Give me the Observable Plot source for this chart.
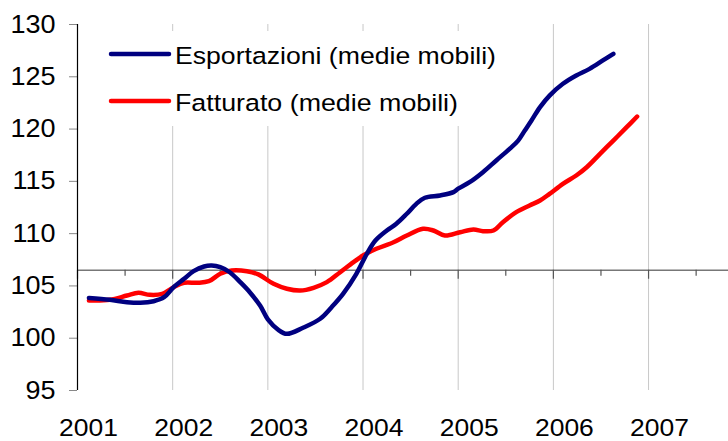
<!DOCTYPE html>
<html>
<head>
<meta charset="utf-8">
<script src="https://cdn.jsdelivr.net/npm/d3@7"></script>
<script src="https://cdn.jsdelivr.net/npm/@observablehq/plot@0.6"></script>
<style>
  html, body { margin: 0; padding: 0; background: #fff; }
  #wrap { position: relative; width: 728px; height: 441px; font-family: "Liberation Sans", Arial, sans-serif; }
  #legend { position: absolute; left: 0; top: 0; pointer-events: none; }
</style>
</head>
<body>
<div id="wrap"></div>
<script>
// ---- Data ----
const seriesNames = ["Esportazioni (medie mobili)", "Fatturato (medie mobili)"];
const seriesColors = ["#000080", "#ff0000"];

const expYears = [2001.12, 2001.34, 2001.52, 2001.66, 2001.80, 2001.91, 2002.01, 2002.12, 2002.22, 2002.33,
  2002.41, 2002.50, 2002.60, 2002.71, 2002.81, 2002.92, 2003.00, 2003.11, 2003.20, 2003.37,
  2003.55, 2003.67, 2003.79, 2003.93, 2004.04, 2004.13, 2004.25, 2004.35, 2004.46, 2004.56,
  2004.65, 2004.81, 2004.95, 2005.00, 2005.12, 2005.26, 2005.40, 2005.54, 2005.63, 2005.70,
  2005.77, 2005.86, 2005.96, 2006.10, 2006.24, 2006.38, 2006.52, 2006.63];
const expValues = [103.85, 103.67, 103.45, 103.39, 103.54, 103.92, 104.88, 105.68, 106.41, 106.86,
  106.95, 106.79, 106.31, 105.36, 104.40, 103.10, 101.80, 100.80, 100.42, 101.00,
  101.86, 102.97, 104.24, 106.16, 108.07, 109.34, 110.30, 110.94, 111.90, 112.85,
  113.43, 113.65, 113.97, 114.30, 114.92, 115.88, 117.00, 118.11, 118.90, 119.86,
  120.82, 122.10, 123.20, 124.33, 125.12, 125.76, 126.56, 127.20];

const fatYears = [2001.12, 2001.34, 2001.52, 2001.64, 2001.76, 2001.89, 2002.01, 2002.12, 2002.26, 2002.38,
  2002.50, 2002.62, 2002.78, 2002.90, 2003.06, 2003.20, 2003.34, 2003.48, 2003.62, 2003.76,
  2003.90, 2004.00, 2004.14, 2004.32, 2004.46, 2004.63, 2004.74, 2004.86, 2005.02, 2005.16,
  2005.26, 2005.37, 2005.47, 2005.61, 2005.75, 2005.86, 2005.96, 2006.10, 2006.24, 2006.35,
  2006.49, 2006.63, 2006.77, 2006.88];
const fatValues = [103.61, 103.67, 104.08, 104.34, 104.15, 104.24, 104.88, 105.30, 105.30, 105.45,
  106.16, 106.48, 106.41, 106.10, 105.20, 104.73, 104.56, 104.82, 105.36, 106.31,
  107.27, 107.91, 108.55, 109.18, 109.82, 110.46, 110.30, 109.82, 110.14, 110.40,
  110.24, 110.30, 111.10, 112.05, 112.69, 113.17, 113.80, 114.76, 115.56, 116.35,
  117.63, 118.90, 120.18, 121.20];

const yTicks = [95, 100, 105, 110, 115, 120, 125, 130];
const xTicks = [2001, 2002, 2003, 2004, 2005, 2006, 2007];
const xGrid = [2002, 2003, 2004, 2005, 2006, 2007];
const xMinor = [2001.5, 2002.5, 2003.5, 2004.5, 2005.5, 2006.5, 2007.5];
const crossValue = 106.5;

// ---- Build tables ----
const exp = expYears.map((x, i) => ({x, y: expValues[i]}));
const fat = fatYears.map((x, i) => ({x, y: fatValues[i]}));

const chart = Plot.plot({
  width: 728,
  height: 441,
  marginLeft: 77,
  marginRight: 0,
  marginTop: 24,
  marginBottom: 51,
  style: { fontFamily: "Liberation Sans, Arial, sans-serif", color: "#000", background: "#fff" },
  x: { domain: [2001, 2007.84] },
  y: { domain: [95, 130] },
  marks: [
    Plot.ruleX(xGrid, { x: d => d, stroke: "#c8c8c8", strokeWidth: 1 }),
    Plot.ruleY([crossValue], { y: d => d, stroke: "#777", strokeWidth: 1.5 }),
    Plot.ruleX(xTicks, { x: d => d, y1: crossValue, y2: crossValue, insetBottom: -9, stroke: "#555", strokeWidth: 1.2 }),
    Plot.ruleX(xMinor, { x: d => d, y1: crossValue, y2: crossValue, insetBottom: -6, stroke: "#555", strokeWidth: 1.2 }),
    Plot.axisY({ ticks: yTicks, tickSize: 8, tickPadding: 14, fontSize: 25, stroke: "#888", label: null }),
    Plot.axisX({ ticks: xTicks, tickSize: 0, tickPadding: 28, dx: 11, fontSize: 24.5, tickFormat: d => String(d), label: null }),
    Plot.ruleX([2001], { x: d => d, stroke: "#000", strokeWidth: 1.2 }),
    Plot.line(fat, { x: "x", y: "y", stroke: seriesColors[1], strokeWidth: 4.5, curve: "catmull-rom" }),
    Plot.line(exp, { x: "x", y: "y", stroke: seriesColors[0], strokeWidth: 4.5, curve: "catmull-rom" })
  ]
});

const wrap = document.getElementById("wrap");
wrap.appendChild(chart);

// widen axis labels slightly (reference glyphs are horizontally stretched)
chart.querySelectorAll("g[aria-label='y-axis tick label'] text, g[aria-label='x-axis tick label'] text").forEach(t => {
  const w = t.getComputedTextLength();
  t.setAttribute("textLength", (w * 1.08).toFixed(1));
  t.setAttribute("lengthAdjust", "spacingAndGlyphs");
});

// ---- Legend overlay ----
const ns = "http://www.w3.org/2000/svg";
const legendWidths = [321, 283];
const leg = document.createElementNS(ns, "svg");
leg.setAttribute("id", "legend");
leg.setAttribute("width", 728);
leg.setAttribute("height", 441);
const bg = document.createElementNS(ns, "rect");
bg.setAttribute("x", 100); bg.setAttribute("y", 31);
bg.setAttribute("width", 410); bg.setAttribute("height", 95);
bg.setAttribute("fill", "#fff");
leg.appendChild(bg);
seriesNames.forEach((name, i) => {
  const cy = 54 + i * 47;
  const ln = document.createElementNS(ns, "line");
  ln.setAttribute("x1", 111); ln.setAttribute("x2", 169);
  ln.setAttribute("y1", cy); ln.setAttribute("y2", cy);
  ln.setAttribute("stroke", seriesColors[i]);
  ln.setAttribute("stroke-width", 4.5);
  ln.setAttribute("stroke-linecap", "round");
  leg.appendChild(ln);
  const t = document.createElementNS(ns, "text");
  t.setAttribute("x", 175); t.setAttribute("y", cy + 10);
  t.setAttribute("font-size", 24.5);
  t.setAttribute("font-family", "Liberation Sans, Arial, sans-serif");
  t.setAttribute("fill", "#000");
  t.setAttribute("textLength", legendWidths[i]);
  t.setAttribute("lengthAdjust", "spacingAndGlyphs");
  t.textContent = name;
  leg.appendChild(t);
});
wrap.appendChild(leg);
</script>
</body>
</html>
